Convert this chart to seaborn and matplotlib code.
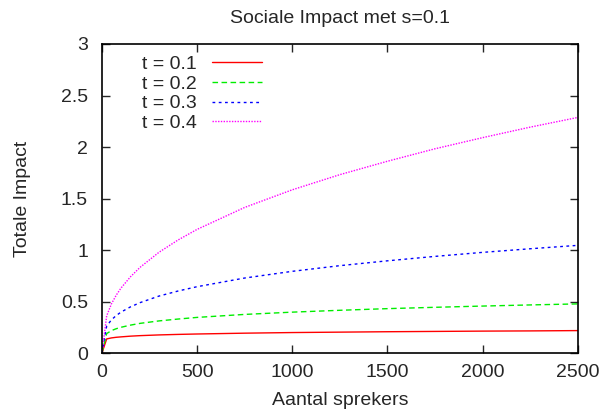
import pandas as pd
import matplotlib
matplotlib.use("Agg")
import matplotlib.pyplot as plt
import seaborn as sns

# aantal sprekers (N) en totale impact per t
sprekers = [0, 25, 50, 75, 100, 150, 200, 300, 400, 500, 750, 1000, 1250, 1500, 1750, 2000, 2250, 2500]
impact_t01 = [0.0, 0.138, 0.148, 0.154, 0.158, 0.165, 0.170, 0.177, 0.182, 0.186, 0.194, 0.200, 0.204, 0.208, 0.211, 0.214, 0.216, 0.219]
impact_t02 = [0.0, 0.190, 0.219, 0.237, 0.251, 0.272, 0.289, 0.313, 0.331, 0.347, 0.376, 0.398, 0.416, 0.432, 0.445, 0.457, 0.468, 0.478]
impact_t03 = [0.0, 0.263, 0.323, 0.365, 0.398, 0.449, 0.490, 0.554, 0.603, 0.645, 0.729, 0.794, 0.849, 0.896, 0.939, 0.978, 1.013, 1.046]
impact_t04 = [0.0, 0.362, 0.478, 0.562, 0.631, 0.741, 0.832, 0.979, 1.098, 1.201, 1.414, 1.585, 1.732, 1.862, 1.983, 2.091, 2.193, 2.287]
labels = ["t = 0.1", "t = 0.2", "t = 0.3", "t = 0.4"]
x_ticks = [0, 500, 1000, 1500, 2000, 2500]
y_ticks = [0, 0.5, 1, 1.5, 2, 2.5, 3]

df = pd.DataFrame({"N": sprekers * 4,
                   "impact": impact_t01 + impact_t02 + impact_t03 + impact_t04,
                   "t": sum([[lab] * len(sprekers) for lab in labels], [])})

sns.set_style("ticks")
plt.rcParams["font.family"] = ["Liberation Sans", "DejaVu Sans"]
plt.rcParams["font.size"] = 14

fig = plt.figure(figsize=(6.03, 4.15), dpi=100)
ax = fig.add_axes([0.169, 0.149, 0.789, 0.745])

colors = ["#ff0000", "#00ee00", "#0000ff", "#ff00ff"]
dashes = [(None, None), (4, 2.5), (2, 2.5), (1, 1)]
for lab, c, d in zip(labels, colors, dashes):
    sub = df[df["t"] == lab]
    sns.lineplot(data=sub, x="N", y="impact", color=c, lw=1, ax=ax, label=lab)
    if d[0] is not None:
        ax.lines[-1].set_dashes(d)

ax.set_xlim(0, 2500)
ax.set_ylim(0, 3)
ax.set_xticks(x_ticks)
ax.set_yticks(y_ticks)
ax.set_yticklabels(["0", "0.5", "1", "1.5", "2", "2.5", "3"])
ax.tick_params(direction="in", top=True, right=True, length=6, width=1, labelsize=14)
ax.tick_params(axis="x", pad=8)
ax.tick_params(axis="y", pad=10)
for s in ax.spines.values():
    s.set_linewidth(1.2)
    s.set_color("black")

ax.set_xlabel("Aantal sprekers", fontsize=14)
ax.set_ylabel("Totale Impact", fontsize=14)
ax.xaxis.set_label_coords(0.5, -0.127)
ax.yaxis.set_label_coords(-0.149, 0.5)
ax.set_title("Sociale Impact met s=0.1", fontsize=14, pad=15)

ax.legend(loc="upper left", frameon=False, markerfirst=False, handlelength=2.6,
          handletextpad=0.75, fontsize=14, labelspacing=0.1,
          bbox_to_anchor=(0.06, 1.0), borderaxespad=0.2)

fig.savefig("out.png", dpi=100)
